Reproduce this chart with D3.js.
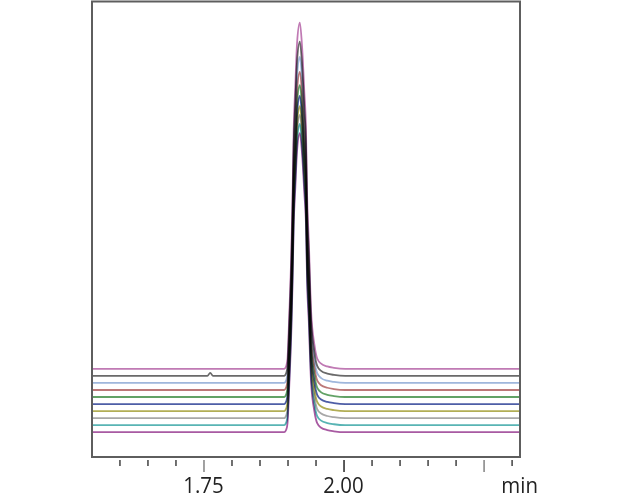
<!DOCTYPE html>
<html>
<head>
<meta charset="utf-8">
<script src="https://cdn.jsdelivr.net/npm/d3@7"></script>
<style>
  html, body { margin: 0; padding: 0; background: #fff; }
  svg { display: block; }
</style>
</head>
<body>
<svg id="chart" width="619" height="500"></svg>
<script>
// ---- data ----
// retention time sample points (min)
const times = [1.551, 1.757, 1.762, 1.767, 1.894, 1.898, 1.900, 1.903, 1.907, 1.909, 1.911, 1.914, 1.917, 1.922, 1.926, 1.930, 1.933, 1.935, 1.938, 1.942, 1.948, 1.953, 1.960, 1.971, 1.983, 2.003, 2.315];
// peak shape, as fraction of each trace's peak height
const profile = [0, 0, 0, 0, 0, 0.01, 0.03, 0.15, 0.35, 0.5, 0.69, 0.82, 0.94, 1.0, 0.93, 0.8, 0.69, 0.5, 0.37, 0.17, 0.07, 0.03, 0.015, 0.007, 0.003, 0, 0];
// small extra blip on the 2nd trace (absolute units)
const blip = [0, 0, 0.75, 0, 0, 0, 0, 0, 0, 0, 0, 0, 0, 0, 0, 0, 0, 0, 0, 0, 0, 0, 0, 0, 0, 0, 0];
const blipTrace = 1;
// traces, listed from the top baseline down
const traceNames = ["Run 10", "Run 9", "Run 8", "Run 7", "Run 6", "Run 5", "Run 4", "Run 3", "Run 2", "Run 1"];
const peakHeights = [83.7, 80.8, 78.8, 76.9, 75.4, 74.5, 73.7, 73.3, 72.8, 72.3];
const baselineOffsets = [15.3, 13.6, 11.9, 10.2, 8.5, 6.8, 5.1, 3.4, 1.7, 0];
const traceColors = ["#c07ab4", "#6a6a6a", "#9fb7dc", "#bc7878", "#62a266", "#4e5ea6", "#b2ae56", "#a8a8a8", "#58b4b4", "#a85aa2"];
// axis
const minorTicks = [1.60, 1.65, 1.70, 1.75, 1.80, 1.85, 1.90, 1.95, 2.00, 2.05, 2.10, 2.15, 2.20, 2.25, 2.30];
const majorTicks = [1.75, 2.00, 2.25];
const tickLabels = ["1.75", "2.00"];
const tickLabelValues = [1.75, 2.00];
const unitLabel = "min";

// ---- drawing ----
const svg = d3.select("#chart");
const x = d3.scaleLinear().domain([1.551, 2.315]).range([92, 520]);
const y = d3.scaleLinear().domain([-6, 104]).range([457, 2]);

const traces = traceNames.map((name, i) => ({
  name,
  color: traceColors[i],
  points: times.map((t, j) => ({
    t,
    v: baselineOffsets[i] + peakHeights[i] * profile[j] + (i === blipTrace ? blip[j] : 0)
  }))
}));

const line = d3.line()
  .x(d => x(d.t))
  .y(d => y(d.v))
  .curve(d3.curveMonotoneX);

const g = svg.append("g").style("isolation", "isolate");
g.selectAll("path.trace")
  .data(traces.slice().reverse())
  .join("path")
  .attr("class", "trace")
  .attr("d", d => line(d.points))
  .attr("fill", "none")
  .attr("stroke", d => d.color)
  .attr("stroke-width", 1.8)
  .style("mix-blend-mode", "multiply");

// frame
svg.append("rect")
  .attr("x", x.range()[0]).attr("y", 1.5)
  .attr("width", x.range()[1] - x.range()[0])
  .attr("height", y.range()[0] - 1.5)
  .attr("fill", "none")
  .attr("stroke", "#5e5e5e")
  .attr("stroke-width", 2);

// axis: minor ticks
const axisY = 460;
const minorAxis = d3.axisBottom(x).tickValues(minorTicks.filter(v => !majorTicks.includes(v)))
  .tickSize(6).tickFormat("");
const ga = svg.append("g").attr("transform", `translate(0,${axisY})`).call(minorAxis);
ga.select(".domain").remove();
ga.selectAll(".tick line").attr("stroke", "#333").attr("stroke-width", 1.4);

const majorAxis = d3.axisBottom(x).tickValues(majorTicks).tickSize(12).tickFormat("");
const gm = svg.append("g").attr("transform", `translate(0,${axisY})`).call(majorAxis);
gm.select(".domain").remove();
gm.selectAll(".tick line")
  .attr("stroke", d => d === 2.00 ? "#333" : "#8a8a8a")
  .attr("stroke-width", 1.6);

// labels
svg.selectAll("text.tl")
  .data(tickLabelValues)
  .join("text")
  .attr("class", "tl")
  .attr("transform", d => `translate(${x(d)},493) scale(0.93,1)`)
  .attr("text-anchor", "middle")
  .attr("font-family", "'Open Sans', 'Noto Sans', sans-serif")
  .attr("font-size", 22)
  .attr("fill", "#222")
  .text((d, i) => tickLabels[i]);

svg.append("text")
  .attr("transform", `translate(538,493) scale(0.93,1)`)
  .attr("text-anchor", "end")
  .attr("font-family", "'Open Sans', 'Noto Sans', sans-serif")
  .attr("font-size", 22)
  .attr("fill", "#222")
  .text(unitLabel);
</script>
</body>
</html>
